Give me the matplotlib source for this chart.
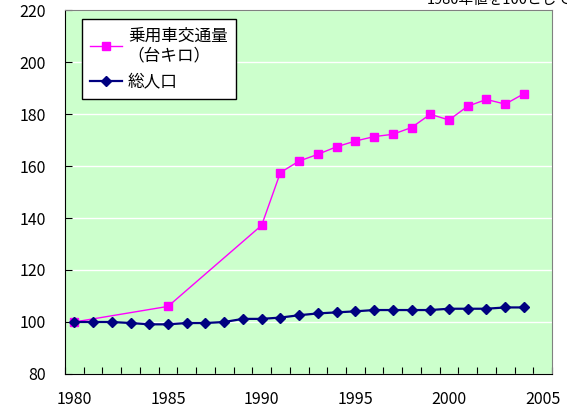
import matplotlib
matplotlib.use("Agg")
import matplotlib.pyplot as plt
import numpy as np

plt.rcParams['font.family'] = ['Noto Sans CJK JP', 'DejaVu Sans']

years_car = [1980, 1985, 1990, 1991, 1992, 1993, 1994, 1995, 1996, 1997,
             1998, 1999, 2000, 2001, 2002, 2003, 2004]
car_traffic = [100, 106, 137.2, 157.5, 161.9, 164.5, 167.4, 169.6, 171.3, 172.2,
               174.8, 179.9, 177.7, 183.0, 185.6, 183.8, 187.8]

years_pop = list(range(1980, 2005))
population = [100, 100, 100, 99.6, 99.1, 99.1, 99.6, 99.6, 100, 101.2,
              101.2, 101.7, 102.6, 103.3, 103.7, 104.1, 104.6, 104.6, 104.6, 104.6,
              105.1, 105.1, 105.1, 105.6, 105.6]

label_car = '乗用車交通量\n（台キロ）'
label_pop = '総人口'
note = '1980年値を100として'
x_labels = [1980, 1985, 1990, 1995, 2000, 2005]
y_ticks = [80, 100, 120, 140, 160, 180, 200, 220]

fig = plt.figure(figsize=(5.67, 4.07), dpi=100)
ax = fig.add_axes([0.1146, 0.0811, 0.859, 0.8943])
ax.set_facecolor('#CCFFCC')

ax.plot(years_car, car_traffic, color='#FF00FF', lw=1.0, marker='s',
        markersize=6, markeredgecolor='#FF00FF', label=label_car, zorder=3)
ax.plot(years_pop, population, color='#000080', lw=1.6, marker='D',
        markersize=5, markeredgecolor='#000080', label=label_pop, zorder=4)

ax.set_ylim(80, 220)
ax.set_xlim(1979.5, 2005.5)
ax.set_yticks(y_ticks)
ax.yaxis.grid(True, color='white', lw=1.0)
ax.set_axisbelow(True)

# tick marks on category boundaries, labels on the years
ax.set_xticks(np.arange(1979.5, 2005.6, 1.0))
ax.set_xticklabels([])
ax.set_xticks(x_labels, minor=True)
ax.set_xticklabels([str(y) for y in x_labels], minor=True)
ax.tick_params(axis='x', which='major', direction='in', length=5, width=0.8)
ax.tick_params(axis='x', which='minor', length=0, pad=12, labelsize=11.5)
ax.tick_params(axis='y', direction='in', length=5, width=0.8, pad=14, labelsize=11.5)

for s in ['top', 'right']:
    ax.spines[s].set_color('#808080')
for s in ['left', 'bottom']:
    ax.spines[s].set_color('black')

leg = ax.legend(loc='upper left', bbox_to_anchor=(0.035, 0.975), fontsize=12,
                frameon=True, fancybox=False, edgecolor='black', framealpha=1,
                handlelength=1.9, borderpad=0.5, labelspacing=0.6,
                handletextpad=0.35, borderaxespad=0)
leg.get_frame().set_linewidth(1.0)

fig.text(0.752, 1.0, note, fontsize=10.5, va='center', ha='left')

fig.savefig('out.png', dpi=100)
